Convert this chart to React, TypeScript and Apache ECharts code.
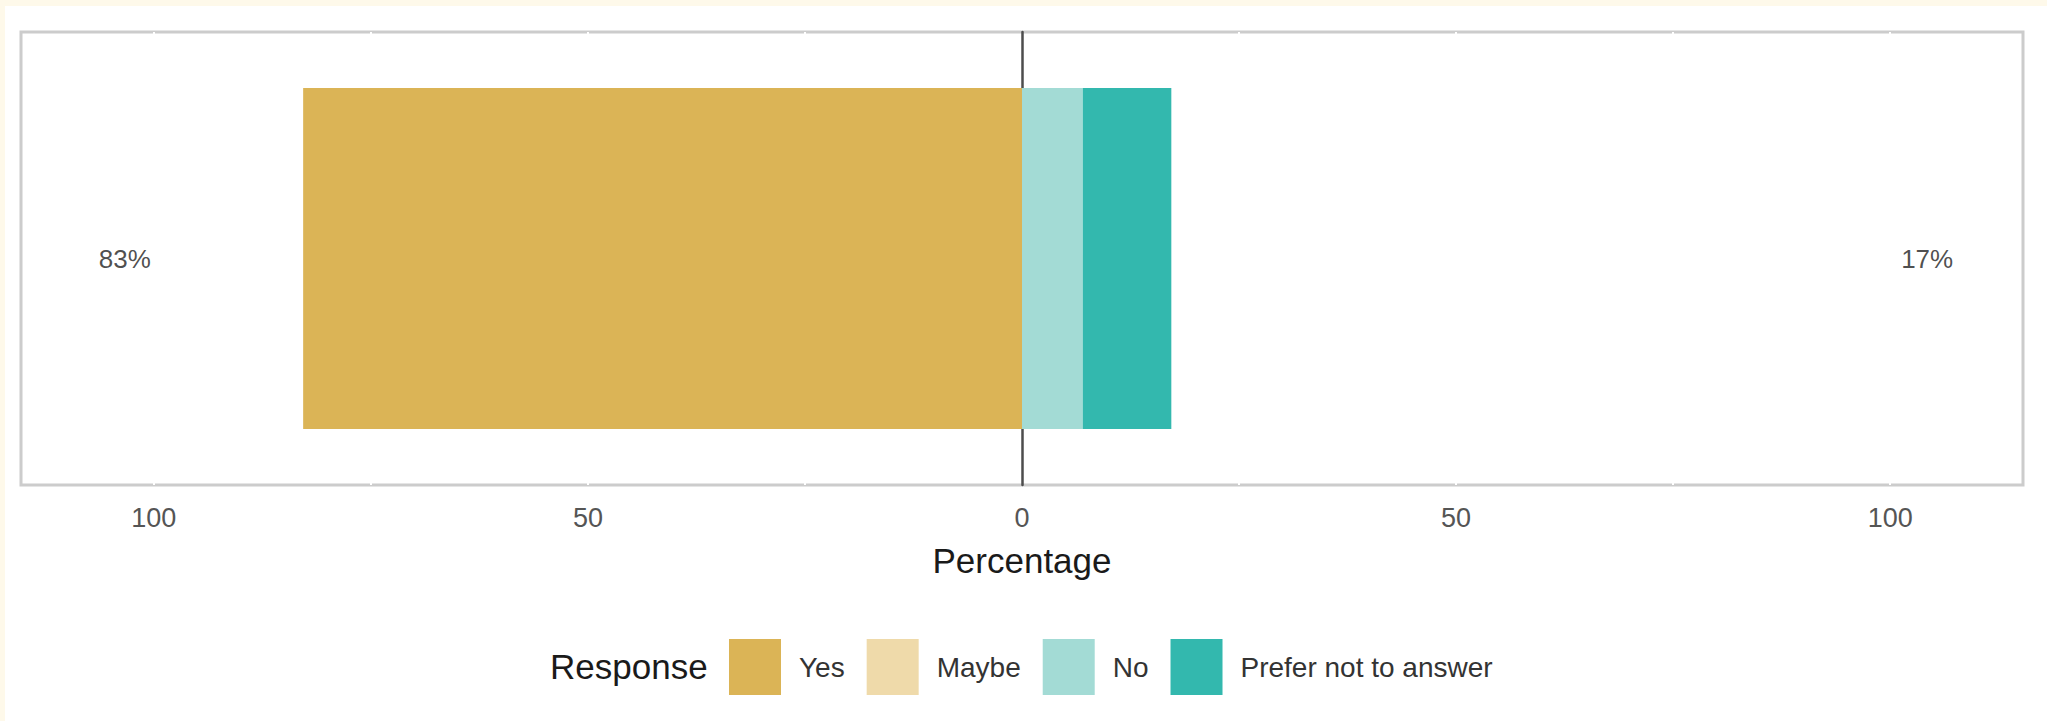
import React, { useEffect, useRef } from "react";
import * as echarts from "echarts";

// ---- data ----
const categories = ["Question"];
const responseNames = ["Yes", "Maybe", "No", "Prefer not to answer"];
const yesValues = [82.8];
const maybeValues = [0];
const noValues = [7.0];
const preferValues = [10.2];
const tickValues = [-100, -50, 0, 50, 100];
const gridTickValues = [-100, -75, -50, -25, 25, 50, 75, 100];

const colors = {
  Yes: "#DBB456",
  Maybe: "#EFDAAA",
  No: "#A3DBD5",
  "Prefer not to answer": "#33B8AE",
};

const FONT = "Liberation Sans";

export default function App() {
  const ref = useRef<HTMLDivElement>(null);

  useEffect(() => {
    if (!ref.current) return;
    const chart = echarts.init(ref.current, null, { renderer: "svg" });

    const leftTotal = yesValues[0] + maybeValues[0] / 2;
    const rightTotal = noValues[0] + preferValues[0] + maybeValues[0] / 2;
    const LABEL_X = 103.8;

    const barBase = {
      type: "bar",
      stack: "total",
      barWidth: "75.3%",
      z: 3,
    };

    chart.setOption({
      animation: false,
      backgroundColor: "#ffffff",
      grid: {
        left: 16,
        right: 24,
        top: 26,
        height: 453,
        show: true,
        backgroundColor: "#ffffff",
        borderColor: "#cccccc",
        borderWidth: 3,
      },
      xAxis: {
        type: "value",
        min: -115.3,
        max: 115.3,
        z: 2,
        axisLine: { show: false },
        axisTick: { show: false, customValues: gridTickValues },
        splitLine: { show: true, lineStyle: { color: "#ffffff", width: 2 } },
        axisLabel: {
          customValues: tickValues,
          formatter: (v: number) => String(Math.abs(v)),
          fontSize: 27,
          color: "#555555",
          fontFamily: FONT,
          margin: 19,
        },
        name: "Percentage",
        nameLocation: "middle",
        nameGap: 58,
        nameTextStyle: { fontSize: 35, color: "#1a1a1a", fontFamily: FONT },
      },
      yAxis: {
        type: "category",
        data: categories,
        z: 1,
        axisLine: { show: true, onZero: true, lineStyle: { color: "#4d4d4d", width: 2.5 } },
        axisTick: { show: false },
        axisLabel: { show: false },
        splitLine: { show: false },
      },
      legend: {
        data: responseNames,
        left: 719,
        top: 628,
        orient: "horizontal",
        icon: "rect",
        itemWidth: 52,
        itemHeight: 56,
        itemGap: 22,
        textStyle: {
          fontSize: 28,
          color: "#333333",
          fontFamily: FONT,
          padding: [0, 0, 0, 13],
        },
      },
      graphic: [
        {
          type: "text",
          left: 545,
          top: 643,
          style: {
            text: "Response",
            fontSize: 35,
            fill: "#1a1a1a",
            fontFamily: FONT,
          },
        },
      ],
      series: [
        {
          ...barBase,
          name: "Yes",
          data: yesValues.map((v) => -v),
          itemStyle: { color: colors.Yes },
        },
        {
          ...barBase,
          name: "Maybe",
          data: maybeValues,
          itemStyle: { color: colors.Maybe },
        },
        {
          ...barBase,
          name: "No",
          data: noValues,
          itemStyle: { color: colors.No },
        },
        {
          ...barBase,
          name: "Prefer not to answer",
          data: preferValues,
          itemStyle: { color: colors["Prefer not to answer"] },
        },
        {
          type: "scatter",
          name: "labels",
          symbolSize: 0,
          z: 4,
          data: [
            { value: [-LABEL_X, 0], label: { formatter: Math.round(leftTotal) + "%" } },
            { value: [LABEL_X, 0], label: { formatter: Math.round(rightTotal) + "%" } },
          ],
          label: {
            show: true,
            position: "inside",
            offset: [4, 0],
            fontSize: 26,
            color: "#1f1f1f",
            fontFamily: FONT,
          },
        },
      ],
    });

    return () => chart.dispose();
  }, []);

  return (
    <div
      style={{
        position: "fixed",
        left: 0,
        top: 0,
        width: 2047,
        height: 721,
        background: "#fef9ea",
      }}
    >
      <div
        ref={ref}
        style={{
          position: "absolute",
          left: 5,
          top: 6,
          width: 2042,
          height: 715,
          background: "#ffffff",
        }}
      />
    </div>
  );
}
